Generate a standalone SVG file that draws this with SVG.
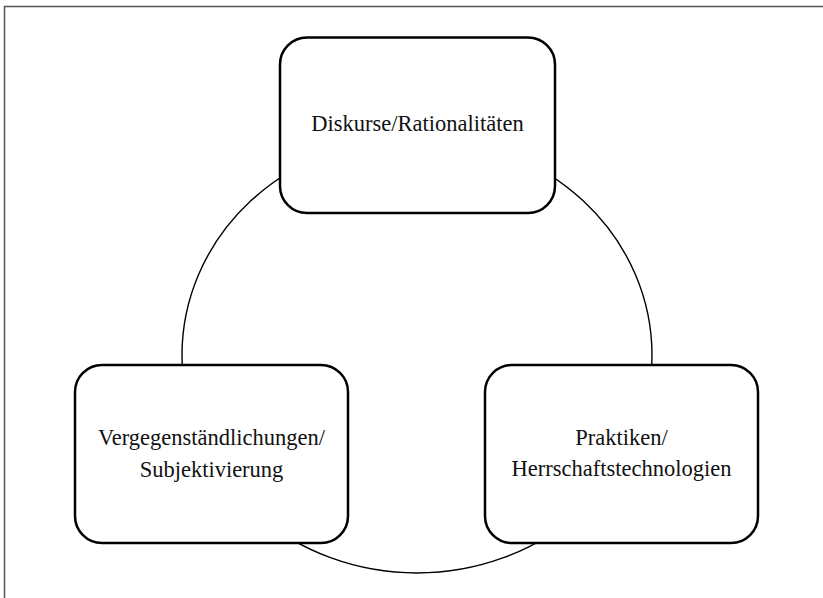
<svg xmlns="http://www.w3.org/2000/svg" width="823" height="598" viewBox="0 0 823 598">
  <style>
    .frame { fill: none; stroke: #555; stroke-width: 1.5; }
    .cycle { fill: none; stroke: #000; stroke-width: 1.4; }
    .box { fill: #fff; stroke: #000; stroke-width: 2.5; }
    .label { font-family: "Liberation Serif", "Times New Roman", serif; font-size: 22.5px; fill: #111; text-anchor: middle; }
  </style>
  <rect width="823" height="598" fill="#fff"/>
  <!-- outer frame, open to the right and bottom -->
  <rect class="frame" x="4.5" y="6.5" width="830" height="610"/>

  <!-- connectors: the cycle linking the three nodes -->
  <g id="connectors">
    <ellipse class="cycle" cx="417" cy="355" rx="235" ry="218"/>
  </g>

  <g id="node-diskurse">
    <rect class="box" x="280" y="37.5" width="275" height="175.5" rx="27" ry="27"/>
    <text class="label" x="417.5" y="131">Diskurse/Rationalitäten</text>
  </g>

  <g id="node-vergegenstaendlichungen">
    <rect class="box" x="75" y="365" width="273" height="178" rx="27" ry="27"/>
    <text class="label" x="211.5" y="445">Vergegenständlichungen/</text>
    <text class="label" x="211.5" y="477">Subjektivierung</text>
  </g>

  <g id="node-praktiken">
    <rect class="box" x="485" y="365" width="273" height="178" rx="27" ry="27"/>
    <text class="label" x="621.5" y="445">Praktiken/</text>
    <text class="label" x="621.5" y="476">Herrschaftstechnologien</text>
  </g>
</svg>
